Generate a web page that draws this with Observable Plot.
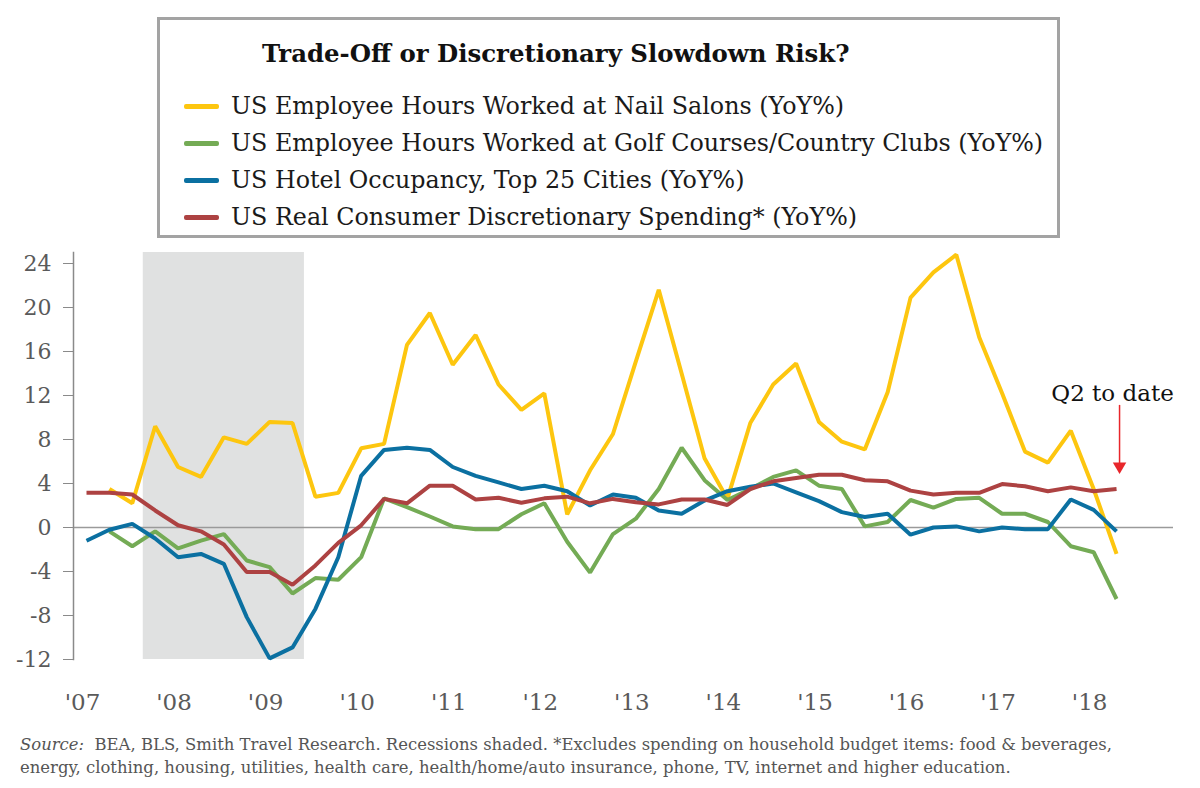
<!DOCTYPE html>
<html><head><meta charset="utf-8">
<script src="https://cdn.jsdelivr.net/npm/d3@7"></script>
<script src="https://cdn.jsdelivr.net/npm/@observablehq/plot@0.6"></script>
<style>
body{margin:0;background:#fff;}
#wrap{position:relative;width:1200px;height:788px;overflow:hidden;font-family:"DejaVu Serif",serif;}
#legend{position:absolute;left:157px;top:17px;width:903px;height:221px;box-sizing:border-box;border:3px solid #a3a3a3;background:#fff;}
#legend .title{position:absolute;left:102px;top:19px;font-weight:bold;font-size:24.4px;color:#111;white-space:nowrap;}
#legend .item{position:absolute;left:24px;height:30px;display:flex;align-items:center;white-space:nowrap;font-size:23.8px;color:#1a1a1a;}
#legend .sw{width:35px;height:5px;border-radius:2px;margin-right:12px;}
#chart{position:absolute;left:0;top:245px;}
#caption{position:absolute;left:20px;top:733px;font-size:16.45px;line-height:23px;color:#555;white-space:nowrap;}
</style></head>
<body><div id="wrap"><div id="legend"></div><div id="chart"></div><div id="caption"></div></div>
<script>
const quarters = ["2007Q1","2007Q2","2007Q3","2007Q4","2008Q1","2008Q2","2008Q3","2008Q4","2009Q1","2009Q2","2009Q3","2009Q4",
"2010Q1","2010Q2","2010Q3","2010Q4","2011Q1","2011Q2","2011Q3","2011Q4","2012Q1","2012Q2","2012Q3","2012Q4",
"2013Q1","2013Q2","2013Q3","2013Q4","2014Q1","2014Q2","2014Q3","2014Q4","2015Q1","2015Q2","2015Q3","2015Q4",
"2016Q1","2016Q2","2016Q3","2016Q4","2017Q1","2017Q2","2017Q3","2017Q4","2018Q1","2018Q2"];

const nailSalons = [null,3.5,2.2,9.2,5.5,4.6,8.2,7.6,9.6,9.5,2.8,3.15,7.2,7.6,16.6,19.5,14.8,17.5,13.0,10.7,12.2,1.2,5.2,8.5,
15.1,21.6,14.0,6.3,2.6,9.5,13.0,14.9,9.6,7.8,7.1,12.3,20.9,23.2,24.8,17.3,12.2,6.9,5.9,8.8,3.5,-2.4];
const golfClubs = [null,-0.35,-1.7,-0.35,-1.9,-1.2,-0.6,-3.0,-3.6,-6.0,-4.6,-4.75,-2.7,2.65,1.85,1.0,0.1,-0.15,-0.15,1.2,2.2,-1.3,
-4.1,-0.6,0.8,3.5,7.25,4.3,2.5,3.5,4.6,5.2,3.8,3.5,0.1,0.5,2.5,1.8,2.6,2.7,1.25,1.25,0.5,-1.7,-2.25,-6.5];
const hotelOccupancy = [-1.2,-0.2,0.33,-1.0,-2.7,-2.4,-3.3,-8.15,-11.9,-10.9,-7.4,-2.7,4.7,7.05,7.25,7.05,5.5,4.7,4.1,3.5,3.8,3.3,
2.0,3.0,2.7,1.55,1.25,2.45,3.3,3.7,4.0,3.2,2.4,1.4,0.95,1.25,-0.65,0.0,0.1,-0.35,0.0,-0.15,-0.15,2.55,1.6,-0.35];
const discretionarySpending = [3.15,3.15,3.0,1.55,0.2,-0.35,-1.55,-4.05,-4.05,-5.2,-3.45,-1.4,0.2,2.6,2.2,3.8,3.8,2.55,2.7,2.25,2.65,
2.8,2.2,2.6,2.3,2.1,2.55,2.55,2.05,3.5,4.2,4.5,4.8,4.8,4.3,4.2,3.35,3.0,3.15,3.15,3.95,3.75,3.3,3.65,3.3,3.5];

const seriesNames = ["US Employee Hours Worked at Nail Salons (YoY%)",
  "US Employee Hours Worked at Golf Courses/Country Clubs (YoY%)",
  "US Hotel Occupancy, Top 25 Cities (YoY%)",
  "US Real Consumer Discretionary Spending* (YoY%)"];
const seriesColors = ["#fdc60f","#74ab55","#0b70a1","#ad4242"];
const seriesValues = [nailSalons, golfClubs, hotelOccupancy, discretionarySpending];

const xTickYears = [2007,2008,2009,2010,2011,2012,2013,2014,2015,2016,2017,2018];
const xTickLabels = ["'07","'08","'09","'10","'11","'12","'13","'14","'15","'16","'17","'18"];
const yTicks = [24,20,16,12,8,4,0,-4,-8,-12];
const recession = [{start: 2007.62, end: 2009.38}];
const annotation = [{quarter: "2018Q2", label: "Q2 to date", textY: 12.2, arrowTop: 11.1, arrowTip: 5.2}];

const title = "Trade-Off or Discretionary Slowdown Risk?";
const captionLines = ["<i>Source:</i>&nbsp; BEA, BLS, Smith Travel Research. Recessions shaded. *Excludes spending on household budget items: food &amp; beverages,",
  "energy, clothing, housing, utilities, health care, health/home/auto insurance, phone, TV, internet and higher education."];

const qToYear = q => +q.slice(0,4) + (+q.slice(5) - 1) / 4;

// legend
const legend = document.getElementById("legend");
legend.innerHTML = `<div class="title">${title}</div>` + seriesNames.map((n,i) =>
  `<div class="item" style="top:${71 + i*37}px"><span class="sw" style="background:${seriesColors[i]}"></span>${n}</div>`).join("");
document.getElementById("caption").innerHTML = captionLines.join("<br>");

const lineMarks = seriesValues.map((vals, k) =>
  Plot.line(quarters.map((q,i) => ({x: qToYear(q), y: vals[i]})), {
    x: "x", y: "y", stroke: seriesColors[k], strokeWidth: 4, strokeLinejoin: "miter", strokeLinecap: "butt"
  }));

const ann = annotation.map(a => ({...a, x: qToYear(a.quarter)}));

const chart = Plot.plot({
  width: 1200, height: 480,
  marginLeft: 73, marginRight: 27, marginTop: 7, marginBottom: 66,
  style: {fontFamily: "'DejaVu Serif', serif", background: "transparent"},
  x: {domain: [2006.858, 2018.872], axis: null},
  y: {domain: [-12, 25], axis: null},
  marks: [
    Plot.rect(recession, {x1: "start", x2: "end", fill: "#e0e1e1"}),
    Plot.ruleY([0], {stroke: "#9a9a9a", strokeWidth: 1.5}),
    Plot.frame({anchor: "left", stroke: "#8a8a8a", strokeWidth: 1.5}),
    Plot.axisY({ticks: yTicks, tickSize: 10, tickPadding: 12, fontSize: 22, stroke: "#8a8a8a", fill: "#5a5a5a", tickFormat: d => String(d)}),
    Plot.axisX({ticks: xTickYears, tickSize: 0, tickPadding: 34, fontSize: 23, fill: "#5a5a5a", dx: -4,
      tickFormat: d => xTickLabels[xTickYears.indexOf(d)]}),
    ...lineMarks,
    Plot.ruleX(ann, {x: "x", y1: "arrowTop", y2: "arrowTip", stroke: "#e8262b", strokeWidth: 1.5, dx: 3}),
    Plot.dot(ann, {x: "x", y: "arrowTip", symbol: "triangle", rotate: 180, r: 5, fill: "#e8262b", stroke: null, dx: 3, dy: -4}),
    Plot.text(ann, {x: "x", y: "textY", text: "label", fontSize: 23, fill: "#111", dx: -4})
  ]
});
document.getElementById("chart").appendChild(chart);
</script></body></html>
